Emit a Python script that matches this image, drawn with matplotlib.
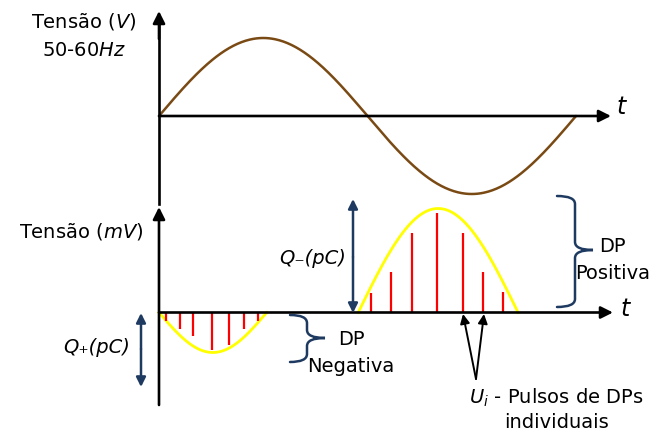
import numpy as np
import matplotlib.pyplot as plt
from matplotlib.path import Path
from matplotlib.patches import PathPatch

# ── signal data ─────────────────────────────────────────────────────────────
# supply voltage: one full cycle, phase in degrees, amplitude in p.u.
SUPPLY_PERIOD_DEG = 360.0
SUPPLY_AMPLITUDE = 1.0

# PD envelopes (phase start, phase end, peak in mV) for each half cycle
NEG_ENVELOPE = (0.0, 93.0, -4.0)
POS_ENVELOPE = (172.0, 310.0, 10.4)

# individual PD pulses: phase (deg) and amplitude (mV)
NEG_PULSE_PHASE = [5.8, 18.0, 29.4, 45.5, 60.4, 73.4, 85.2]
NEG_PULSE_AMP = [-0.8, -1.65, -2.3, -3.7, -3.25, -1.65, -0.8]
POS_PULSE_PHASE = [183.0, 200.3, 218.0, 239.7, 262.7, 280.0, 296.7]
POS_PULSE_AMP = [2.0, 4.1, 7.95, 10.0, 8.0, 4.1, 2.1]

# ── layout (pixels) ─────────────────────────────────────────────────────────
W, H = 653, 435
X0 = 159                       # vertical axes position
PX_PER_DEG = 417 / 360
TOP_ZERO, TOP_SCALE = 117, 78  # px of zero line, px per p.u.
BOT_ZERO, BOT_SCALE = 313.5, 10  # px of zero line, px per mV

BROWN = "#7a4a14"
NAVY = "#1f3a60"
YELLOW = "#ffff00"
RED = "#ff0000"

fig = plt.figure(figsize=(W / 100, H / 100), dpi=100)

xlim = (-X0 / PX_PER_DEG, (W - X0) / PX_PER_DEG)

# top panel: supply voltage
ax_top = fig.add_axes([0, (H - 210) / H, 1, 210 / H])
ax_top.set_xlim(*xlim)
ax_top.set_ylim((TOP_ZERO - 210) / TOP_SCALE, TOP_ZERO / TOP_SCALE)
ax_top.axis("off")
phase = np.linspace(0, SUPPLY_PERIOD_DEG, 400)
ax_top.plot(phase, SUPPLY_AMPLITUDE * np.sin(np.radians(phase)),
            color=BROWN, lw=1.8, solid_capstyle="round", zorder=3)

# bottom panel: PD pulses
ax_bot = fig.add_axes([0, 0, 1, 235 / H])
ax_bot.set_xlim(*xlim)
ax_bot.set_ylim((BOT_ZERO - H) / BOT_SCALE, (BOT_ZERO - 200) / BOT_SCALE)
ax_bot.axis("off")

for start, end, peak in (NEG_ENVELOPE, POS_ENVELOPE):
    ph = np.linspace(start, end, 200)
    ax_bot.plot(ph, peak * np.sin(np.pi * (ph - start) / (end - start)),
                color=YELLOW, lw=2.0, zorder=2)

ax_bot.vlines(NEG_PULSE_PHASE, 0, NEG_PULSE_AMP, color=RED, lw=1.6, zorder=3)
ax_bot.vlines(POS_PULSE_PHASE, 0, POS_PULSE_AMP, color=RED, lw=1.6, zorder=3)

# overlay in pixel coordinates for axes arrows, braces and labels
ov = fig.add_axes([0, 0, 1, 1], zorder=5)
ov.set_xlim(0, W)
ov.set_ylim(H, 0)
ov.axis("off")
ov.patch.set_alpha(0)


def arrow(tail, tip, color="k", lw=1.9, ms=16, style="-|>"):
    ov.annotate("", xy=tip, xytext=tail,
                arrowprops=dict(arrowstyle=style, color=color, lw=lw,
                                mutation_scale=ms, shrinkA=0, shrinkB=0))


# axes
ov.plot([X0, X0], [205, 25], color="k", lw=1.9)
arrow((X0, 40), (X0, 12), ms=18)
arrow((X0, TOP_ZERO), (611, TOP_ZERO), ms=18)
arrow((X0, 406), (X0, 208), ms=18)
arrow((X0, BOT_ZERO), (613, BOT_ZERO), ms=18)

# double arrows for charge
arrow((353, 258), (353, 200), color=NAVY, lw=1.8, ms=14)
arrow((353, 258), (353, 314), color=NAVY, lw=1.8, ms=14)
arrow((141, 350), (141, 314), color=NAVY, lw=1.8, ms=14)
arrow((141, 350), (141, 388), color=NAVY, lw=1.8, ms=14)

# arrows pointing at individual pulses
arrow((476, 380), (463, 315), lw=1.4, ms=14)
arrow((476, 380), (484, 315), lw=1.4, ms=14)


def brace(xl, xs, xt, ytop, ybot, ym, r=8):
    verts = [(xl, ytop), (xs, ytop), (xs, ytop + r),
             (xs, ym - r), (xs, ym), (xt, ym),
             (xs, ym), (xs, ym + r),
             (xs, ybot - r), (xs, ybot), (xl, ybot)]
    codes = [Path.MOVETO, Path.CURVE3, Path.CURVE3,
             Path.LINETO, Path.CURVE3, Path.CURVE3,
             Path.CURVE3, Path.CURVE3,
             Path.LINETO, Path.CURVE3, Path.CURVE3]
    ov.add_patch(PathPatch(Path(verts, codes), fill=False,
                           edgecolor=NAVY, lw=1.8, capstyle="round"))


brace(557, 575, 593, 197, 308, 251)
brace(290, 307, 325, 316, 363, 339)

# labels
fs = 14
kw = dict(fontsize=fs, ha="center", va="center")
ov.text(84, 22, r"Tensão ($\mathit{V}$)", **kw)
ov.text(84, 51, r"50-60$\mathit{Hz}$", **kw)
ov.text(81, 232, r"Tensão ($\mathit{mV}$)", **kw)
ov.text(621, 107, "t", style="italic", fontsize=fs + 3, ha="center", va="center")
ov.text(625, 309, "t", style="italic", fontsize=fs + 3, ha="center", va="center")
ov.text(313, 259, "Q\u208b(pC)", style="italic", **kw)
ov.text(97, 348, "Q\u208a(pC)", style="italic", **kw)
ov.text(612, 247, "DP", **kw)
ov.text(613, 274, "Positiva", **kw)
ov.text(351, 340, "DP", **kw)
ov.text(351, 367, "Negativa", **kw)
ov.text(556, 398, r"$\mathit{U_i}$ - Pulsos de DPs", **kw)
ov.text(556, 423, "individuais", **kw)

fig.savefig("out.png", dpi=100, facecolor="white")
